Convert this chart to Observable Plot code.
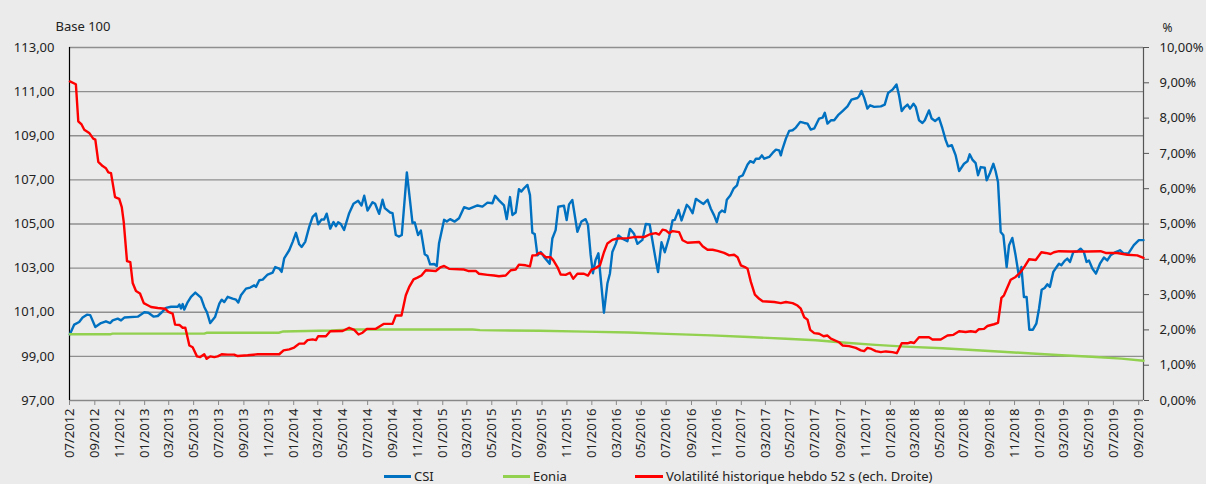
<!DOCTYPE html>
<html>
<head>
<meta charset="utf-8">
<script src="https://cdn.jsdelivr.net/npm/d3@7"></script>
<script src="https://cdn.jsdelivr.net/npm/@observablehq/plot@0.6"></script>
<style>
  html, body { margin: 0; padding: 0; background: #ebebeb; }
  body { width: 1206px; height: 484px; overflow: hidden; font-family: "Noto Sans", sans-serif; color: #222; }
  #legend { position: relative; height: 26px; font-size: 13px; }
  .item { position: absolute; top: 8px; height: 20px; display: flex; align-items: center; white-space: nowrap; }
  .sw { display: inline-block; height: 3px; margin-right: 3px; }
</style>
</head>
<body>
<div id="chart"></div>
<div id="legend"></div>
<script>
// ---- Data (decimal year, value) ----
const csi = [
[2012.500,100.00],[2012.529,100.44],[2012.562,100.56],[2012.585,100.76],[2012.614,100.89],[2012.636,100.87],
[2012.670,100.33],[2012.708,100.51],[2012.741,100.59],[2012.770,100.51],[2012.786,100.63],[2012.820,100.71],
[2012.842,100.63],[2012.864,100.76],[2012.954,100.80],[2012.998,101.00],[2013.025,100.98],[2013.061,100.80],
[2013.088,100.83],[2013.115,101.00],[2013.143,101.20],[2013.177,101.25],[2013.222,101.25],[2013.233,101.35],
[2013.244,101.17],[2013.255,101.37],[2013.266,101.12],[2013.289,101.46],[2013.311,101.70],[2013.340,101.89],
[2013.378,101.66],[2013.400,101.24],[2013.418,101.00],[2013.440,100.51],[2013.472,100.78],[2013.501,101.39],
[2013.517,101.57],[2013.534,101.46],[2013.557,101.70],[2013.590,101.62],[2013.613,101.57],[2013.628,101.44],
[2013.646,101.77],[2013.680,102.07],[2013.708,102.12],[2013.735,102.22],[2013.747,102.15],[2013.769,102.45],
[2013.792,102.48],[2013.825,102.71],[2013.859,102.80],[2013.876,103.05],[2013.903,102.98],[2013.919,102.83],
[2013.936,103.44],[2013.970,103.81],[2013.993,104.19],[2014.015,104.60],[2014.037,104.08],[2014.053,103.96],
[2014.077,104.19],[2014.104,104.87],[2014.127,105.32],[2014.149,105.47],[2014.164,104.99],[2014.187,105.21],
[2014.204,105.20],[2014.221,105.47],[2014.245,104.79],[2014.267,105.09],[2014.283,104.90],[2014.298,105.08],
[2014.316,105.00],[2014.338,104.73],[2014.372,105.49],[2014.401,105.92],[2014.432,106.05],[2014.455,105.84],
[2014.473,106.28],[2014.495,105.61],[2014.529,105.99],[2014.546,105.92],[2014.573,105.46],[2014.596,106.10],
[2014.611,105.72],[2014.647,105.52],[2014.663,105.49],[2014.685,104.50],[2014.707,104.43],[2014.725,104.50],
[2014.759,107.34],[2014.797,105.04],[2014.812,105.07],[2014.834,104.50],[2014.853,104.70],[2014.879,103.63],
[2014.897,103.55],[2014.915,103.17],[2014.942,103.19],[2014.960,103.10],[2014.975,104.13],[2015.009,105.19],
[2015.027,105.11],[2015.049,105.22],[2015.080,105.11],[2015.109,105.26],[2015.143,105.76],[2015.176,105.69],
[2015.233,105.84],[2015.266,105.79],[2015.300,105.97],[2015.333,105.94],[2015.351,106.28],[2015.377,106.07],
[2015.411,105.84],[2015.429,105.22],[2015.451,106.22],[2015.467,105.41],[2015.489,105.52],[2015.511,106.58],
[2015.527,106.47],[2015.545,106.62],[2015.568,106.77],[2015.585,106.31],[2015.601,104.60],[2015.617,104.54],
[2015.635,103.58],[2015.657,103.73],[2015.679,103.51],[2015.717,103.20],[2015.735,104.34],[2015.757,104.72],
[2015.775,105.78],[2015.813,105.83],[2015.831,105.18],[2015.847,105.89],[2015.869,106.09],[2015.903,104.65],
[2015.930,105.11],[2015.958,105.22],[2015.974,104.96],[2015.992,103.60],[2016.007,102.77],[2016.025,103.37],
[2016.044,103.67],[2016.054,102.92],[2016.081,100.98],[2016.104,102.30],[2016.121,102.76],[2016.137,103.73],
[2016.160,104.10],[2016.178,104.48],[2016.204,104.33],[2016.238,104.22],[2016.255,104.78],[2016.282,104.56],
[2016.305,104.10],[2016.338,104.28],[2016.361,105.00],[2016.387,104.98],[2016.405,104.25],[2016.428,103.35],
[2016.443,102.82],[2016.466,104.17],[2016.488,103.72],[2016.517,104.40],[2016.540,105.16],[2016.555,105.19],
[2016.580,105.64],[2016.600,105.16],[2016.635,105.87],[2016.651,105.76],[2016.674,105.49],[2016.696,106.14],
[2016.729,105.99],[2016.747,105.91],[2016.774,106.10],[2016.796,105.69],[2016.818,105.39],[2016.836,105.08],
[2016.852,105.49],[2016.870,105.61],[2016.890,105.54],[2016.903,106.10],[2016.926,106.29],[2016.948,106.60],
[2016.971,106.75],[2016.986,107.13],[2017.009,107.20],[2017.042,107.70],[2017.060,107.85],[2017.082,107.78],
[2017.098,107.96],[2017.120,107.96],[2017.138,108.11],[2017.154,107.96],[2017.187,108.04],[2017.210,108.22],
[2017.232,108.37],[2017.254,108.34],[2017.265,108.11],[2017.277,108.42],[2017.299,108.87],[2017.321,109.22],
[2017.344,109.25],[2017.366,109.37],[2017.395,109.63],[2017.422,109.58],[2017.444,109.55],[2017.466,109.28],
[2017.489,109.33],[2017.522,109.78],[2017.545,109.82],[2017.560,110.04],[2017.578,109.55],[2017.601,109.70],
[2017.623,109.70],[2017.649,109.93],[2017.679,110.12],[2017.712,110.33],[2017.739,110.64],[2017.779,110.71],
[2017.790,110.79],[2017.806,111.03],[2017.824,110.73],[2017.846,110.23],[2017.864,110.38],[2017.891,110.31],
[2017.936,110.33],[2017.962,110.41],[2017.985,110.94],[2018.014,111.09],[2018.041,111.32],[2018.058,110.83],
[2018.076,110.12],[2018.092,110.27],[2018.115,110.41],[2018.132,110.23],[2018.155,110.45],[2018.170,110.31],
[2018.192,109.70],[2018.215,109.58],[2018.231,109.70],[2018.259,110.15],[2018.277,109.78],[2018.300,109.67],
[2018.326,109.81],[2018.349,109.33],[2018.371,108.80],[2018.387,108.52],[2018.412,108.57],[2018.438,108.11],
[2018.461,107.40],[2018.494,107.73],[2018.517,107.84],[2018.532,108.16],[2018.550,107.92],[2018.572,107.76],
[2018.588,107.21],[2018.606,107.58],[2018.633,107.55],[2018.646,106.98],[2018.668,107.31],[2018.691,107.73],
[2018.706,107.39],[2018.722,106.90],[2018.740,104.64],[2018.758,104.49],[2018.780,103.05],[2018.796,104.04],
[2018.818,104.37],[2018.840,103.58],[2018.863,102.60],[2018.879,103.05],[2018.896,101.69],[2018.914,101.69],
[2018.932,100.21],[2018.956,100.21],[2018.979,100.48],[2018.997,101.16],[2019.015,102.02],[2019.035,102.10],
[2019.053,102.27],[2019.070,102.15],[2019.093,102.83],[2019.115,103.05],[2019.131,103.20],[2019.147,103.13],
[2019.169,103.33],[2019.187,103.43],[2019.205,103.28],[2019.227,103.73],[2019.254,103.76],[2019.276,103.88],
[2019.298,103.73],[2019.316,103.28],[2019.332,103.35],[2019.355,102.98],[2019.379,102.75],[2019.406,103.20],
[2019.432,103.48],[2019.455,103.35],[2019.477,103.58],[2019.511,103.73],[2019.540,103.81],[2019.566,103.66],
[2019.596,103.66],[2019.633,104.04],[2019.667,104.27],[2019.698,104.27]
];

const eonia = [
[2012.500,100.00],[2012.770,100.00],[2012.785,100.03],[2013.400,100.03],[2013.415,100.07],[2013.900,100.07],
[2013.930,100.13],[2014.250,100.17],[2014.400,100.22],[2015.200,100.22],[2015.250,100.19],[2015.650,100.16],
[2015.950,100.12],[2016.250,100.08],[2016.500,100.02],[2016.800,99.95],[2017.050,99.88],[2017.300,99.80],
[2017.500,99.73],[2017.700,99.62],[2017.900,99.52],[2018.100,99.44],[2018.350,99.37],[2018.550,99.29],
[2018.750,99.21],[2018.950,99.13],[2019.150,99.05],[2019.350,98.98],[2019.550,98.90],[2019.698,98.80]
];

// Volatilité historique hebdo 52 s, in %
const vol = [
[2012.500,9.04],[2012.540,8.96],[2012.556,7.91],[2012.578,7.82],[2012.596,7.67],[2012.629,7.58],[2012.656,7.42],
[2012.670,7.39],[2012.690,6.76],[2012.719,6.64],[2012.741,6.58],[2012.757,6.46],[2012.775,6.44],[2012.802,5.76],
[2012.830,5.71],[2012.847,5.48],[2012.860,5.06],[2012.882,3.95],[2012.904,3.92],[2012.920,3.33],[2012.942,3.10],
[2012.969,3.03],[2012.994,2.76],[2013.021,2.70],[2013.043,2.65],[2013.088,2.62],[2013.137,2.60],[2013.159,2.51],
[2013.188,2.46],[2013.204,2.15],[2013.233,2.14],[2013.255,2.06],[2013.273,2.06],[2013.300,1.56],[2013.322,1.51],
[2013.351,1.25],[2013.373,1.23],[2013.400,1.31],[2013.416,1.18],[2013.440,1.25],[2013.467,1.23],[2013.490,1.25],
[2013.517,1.31],[2013.557,1.30],[2013.601,1.30],[2013.624,1.26],[2013.691,1.28],[2013.758,1.31],[2013.903,1.31],
[2013.932,1.42],[2013.970,1.45],[2014.003,1.50],[2014.037,1.61],[2014.070,1.61],[2014.093,1.71],[2014.127,1.73],
[2014.149,1.71],[2014.164,1.82],[2014.216,1.82],[2014.245,1.96],[2014.328,1.97],[2014.372,2.06],[2014.406,2.00],
[2014.435,1.87],[2014.462,1.92],[2014.491,2.03],[2014.551,2.03],[2014.603,2.17],[2014.663,2.17],[2014.685,2.41],
[2014.723,2.41],[2014.752,2.98],[2014.774,3.21],[2014.804,3.43],[2014.830,3.48],[2014.857,3.54],[2014.886,3.69],
[2014.953,3.67],[2014.987,3.78],[2015.009,3.81],[2015.042,3.73],[2015.143,3.71],[2015.170,3.67],[2015.221,3.67],
[2015.243,3.59],[2015.300,3.56],[2015.344,3.54],[2015.377,3.52],[2015.422,3.54],[2015.456,3.69],[2015.489,3.71],
[2015.511,3.85],[2015.556,3.83],[2015.585,3.80],[2015.601,4.11],[2015.623,4.11],[2015.645,4.18],[2015.668,4.15],
[2015.690,4.06],[2015.724,4.06],[2015.742,3.97],[2015.769,3.78],[2015.791,3.57],[2015.824,3.56],[2015.853,3.62],
[2015.875,3.45],[2015.903,3.59],[2015.947,3.59],[2015.974,3.54],[2015.997,3.70],[2016.025,3.75],[2016.054,3.83],
[2016.081,4.20],[2016.104,4.45],[2016.137,4.55],[2016.171,4.59],[2016.238,4.60],[2016.282,4.63],[2016.349,4.63],
[2016.389,4.71],[2016.428,4.74],[2016.450,4.70],[2016.473,4.84],[2016.495,4.82],[2016.517,4.74],[2016.540,4.80],
[2016.584,4.77],[2016.607,4.54],[2016.640,4.47],[2016.718,4.49],[2016.741,4.37],[2016.774,4.27],[2016.808,4.27],
[2016.841,4.24],[2016.885,4.18],[2016.919,4.11],[2016.952,4.13],[2016.975,4.06],[2016.997,3.83],[2017.024,3.78],
[2017.042,3.73],[2017.064,3.36],[2017.091,3.00],[2017.120,2.88],[2017.143,2.81],[2017.221,2.79],[2017.265,2.76],
[2017.299,2.79],[2017.344,2.76],[2017.377,2.69],[2017.399,2.60],[2017.422,2.36],[2017.444,2.29],[2017.462,2.00],
[2017.489,1.91],[2017.522,1.89],[2017.552,1.82],[2017.578,1.84],[2017.601,1.75],[2017.656,1.65],[2017.679,1.56],
[2017.723,1.54],[2017.768,1.49],[2017.802,1.42],[2017.824,1.40],[2017.846,1.49],[2017.873,1.46],[2017.902,1.40],
[2017.936,1.37],[2017.969,1.39],[2018.014,1.37],[2018.043,1.34],[2018.076,1.62],[2018.115,1.62],[2018.137,1.65],
[2018.159,1.63],[2018.192,1.79],[2018.259,1.79],[2018.282,1.73],[2018.338,1.73],[2018.383,1.84],[2018.423,1.86],
[2018.461,1.96],[2018.505,1.94],[2018.539,1.96],[2018.572,1.94],[2018.594,2.02],[2018.628,2.03],[2018.651,2.11],
[2018.695,2.16],[2018.722,2.20],[2018.745,2.91],[2018.762,2.98],[2018.807,3.42],[2018.840,3.50],[2018.874,3.64],
[2018.901,3.80],[2018.930,4.00],[2018.975,3.98],[2019.013,4.20],[2019.042,4.18],[2019.075,4.15],[2019.097,4.20],
[2019.131,4.23],[2019.209,4.22],[2019.321,4.22],[2019.410,4.23],[2019.444,4.18],[2019.522,4.18],[2019.589,4.13],
[2019.656,4.11],[2019.698,4.04]
];

const leftTicks = [97, 99, 101, 103, 105, 107, 109, 111, 113];
const rightTicks = [0, 1, 2, 3, 4, 5, 6, 7, 8, 9, 10];
const xStart = 2012.5, xEnd = 2019.698;
const seriesNames = ["CSI", "Eonia", "Volatilité historique hebdo 52 s (ech. Droite)"];
const seriesColors = ["#0070C0", "#92D050", "#FF0000"];

// ---- helpers ----
function toDate(t) {
  const y = Math.floor(t);
  const a = Date.UTC(y, 0, 1), b = Date.UTC(y + 1, 0, 1);
  return new Date(a + (t - y) * (b - a));
}
const dStart = new Date(Date.UTC(2012, 6, 1));
const dEnd = toDate(xEnd);
const rows = arr => arr.map(([t, v]) => ({date: toDate(t), v}));
// right axis: 0..10 % mapped onto 97..113
const lo = leftTicks[0], hi = leftTicks[leftTicks.length - 1];
const pctToLeft = p => lo + p * (hi - lo) / 10;
const comma = (x, n) => x.toFixed(n).replace(".", ",");
const xTicks = d3.utcMonth.every(2).range(dStart, new Date(Date.UTC(2019, 9, 1)));

const chart = Plot.plot({
  width: 1206,
  height: 458,
  marginLeft: 69,
  marginRight: 63,
  marginTop: 47,
  marginBottom: 58,
  style: {background: "#ebebeb", fontFamily: "Noto Sans, sans-serif", fontSize: "13px", color: "#222", overflow: "visible"},
  x: {type: "utc", domain: [dStart, dEnd]},
  y: {domain: [lo, hi]},
  marks: [
    Plot.gridY(leftTicks, {stroke: "#8f8f8f", strokeOpacity: 1, strokeWidth: 1.4}),
    Plot.axisY(leftTicks, {anchor: "left", tickSize: 0, tickPadding: 15, tickFormat: d => comma(d, 2), label: null}),
    Plot.axisY(rightTicks.map(pctToLeft), {anchor: "right", tickSize: 5, tickPadding: 11, stroke: "#555",
      tickFormat: d => comma((d - lo) * 10 / (hi - lo), 2) + "%", label: null}),
    Plot.axisX(xTicks, {anchor: "bottom", tickSize: 5, tickPadding: 3, tickRotate: -90, stroke: "#888",
      tickFormat: d3.utcFormat("%m/%Y"), label: null}),
    Plot.ruleY([lo], {stroke: "#888", strokeWidth: 1}),
    Plot.ruleX([dStart], {stroke: "#000", strokeWidth: 1.2}),
    Plot.ruleX([dEnd], {stroke: "#555", strokeWidth: 1.2}),
    Plot.lineY(rows(csi), {x: "date", y: "v", stroke: seriesColors[0], strokeWidth: 2.4}),
    Plot.lineY(rows(eonia), {x: "date", y: "v", stroke: seriesColors[1], strokeWidth: 2.4}),
    Plot.lineY(rows(vol), {x: "date", y: d => pctToLeft(d.v), stroke: seriesColors[2], strokeWidth: 2.4}),
    Plot.text(["Base 100"], {frameAnchor: "top-left", textAnchor: "start", dx: -14, dy: -26, fill: "#222"}),
    Plot.text(["%"], {frameAnchor: "top-right", textAnchor: "start", dx: 19, dy: -24, fill: "#222", fontSize: 12})
  ]
});
document.getElementById("chart").appendChild(chart);

// legend
const legendPos = [[384, 27], [503, 27], [635, 28]];
const leg = document.getElementById("legend");
seriesNames.forEach((name, i) => {
  const it = document.createElement("div");
  it.className = "item";
  it.style.left = legendPos[i][0] + "px";
  const sw = document.createElement("span");
  sw.className = "sw";
  sw.style.width = legendPos[i][1] + "px";
  sw.style.background = seriesColors[i];
  const tx = document.createElement("span");
  tx.textContent = name;
  it.appendChild(sw); it.appendChild(tx);
  leg.appendChild(it);
});
</script>
</body>
</html>
